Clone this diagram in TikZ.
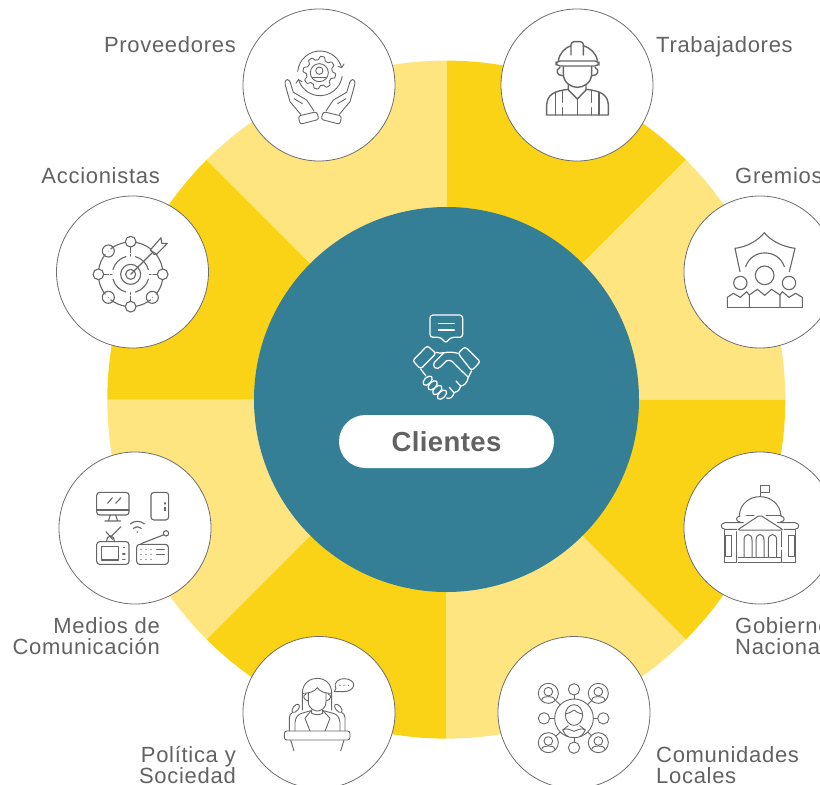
\documentclass[tikz,border=0pt]{standalone}
\usepackage{fontspec}
\setmainfont{Liberation Sans}
\newfontfamily\lblfont[LetterSpace=3.2]{Liberation Sans}
\newfontfamily\pillfont[LetterSpace=1.5]{Liberation Sans Bold}
\definecolor{sunY}{HTML}{FBD316}
\definecolor{paleY}{HTML}{FFE57F}
\definecolor{tealC}{HTML}{347F96}
\definecolor{greyT}{HTML}{626262}
\definecolor{greyI}{HTML}{666666}
\definecolor{ringG}{HTML}{6E6E6E}
\tikzset{
  bubble/.style={circle,draw=ringG,line width=0.8pt,fill=white,minimum size=152pt,inner sep=0pt},
  lblR/.style={font=\lblfont\fontsize{22}{21}\selectfont,text=greyT,align=right,inner sep=0pt},
  lblL/.style={font=\lblfont\fontsize{22}{21}\selectfont,text=greyT,align=left,inner sep=0pt},
  iconline/.style={color=greyI,line width=#1,line cap=round,line join=round},
  iconline/.default=0.9pt,
}
\newcommand{\arcat}[5]{([shift={(#4:#3)}]#1,#2) arc[start angle=#4,end angle=#5,radius=#3]}
\begin{document}
\begin{tikzpicture}[x=1pt,y=-1pt]
\useasboundingbox (0,0) rectangle (820,785);
\clip (0,0) rectangle (820,785);
\fill[white] (0,0) rectangle (820,785);
% sectors
\foreach \a/\c in {-90/sunY,-45/paleY,0/sunY,45/paleY,90/sunY,135/paleY,180/sunY,225/paleY}{
  \fill[\c] (446.3,399.6) -- ++(\a:339) arc[start angle=\a,end angle=\a+45,radius=339] -- cycle;
}
\node[circle,fill=tealC,minimum size=385pt,inner sep=0pt] (hub) at (446.5,399.5) {};
% bubbles
\node[bubble] (prov) at (319,85) {};
\node[bubble] (trab) at (577,85) {};
\node[bubble] (grem) at (760,272) {};
\node[bubble] (gobi) at (760,528) {};
\node[bubble] (comu) at (574,712.5) {};
\node[bubble] (poli) at (319,712.5) {};
\node[bubble] (medi) at (135,528) {};
\node[bubble] (acci) at (132.5,272) {};
% pill
\node[fill=white,rounded corners=26.5pt,minimum width=215pt,minimum height=53pt,inner sep=0pt,text=greyT,font=\pillfont\fontsize{27.5}{27.5}\selectfont] (pill) at (446.5,441.5) {\raisebox{-1pt}{Clientes}};
% labels
\node[lblR,anchor=base east] (lprov) at (236,52) {Proveedores};
\node[lblL,anchor=base west] (ltrab) at (656,52) {Trabajadores};
\node[lblL,anchor=base west] (lgrem) at (735,183) {Gremios};
\node[lblR,anchor=base east] (lacci) at (160,183) {Accionistas};
\node[lblR,anchor=base east] (lmedi) at (160,654) {Medios de\\Comunicación};
\node[lblL,anchor=base west] (lgobi) at (735,654) {Gobierno\\Nacional};
\node[lblR,anchor=base east] (lpoli) at (236,783) {Política y\\Sociedad};
\node[lblL,anchor=base west] (lcomu) at (656,783) {Comunidades\\Locales};
% ---- handshake
\begin{scope}[shift={(330,300)},x=0.33333pt,y=-0.33333pt,color=white,line width=1.25pt,line cap=round,line join=round]
\draw[rounded corners=3pt] (333,112)--(300,112)--(300,45)--(398,45)--(398,112)--(362,112)--(347,130)--cycle;
\draw (325,70)--(373,70) (325,90)--(373,90);
\draw[rounded corners=2.5pt] (248,182)--(292,137)--(318,160)--(272,207)--cycle;
\draw[rounded corners=2.5pt] (384,160)--(405,140)--(451,185)--(425,212)--cycle;
\draw (318,157) .. controls (335,165) and (350,150) .. (384,160);
\draw (342,158) -- (313,187) .. controls (305,200) and (320,213) .. (332,200) -- (350,182) .. controls (358,178) and (365,182) .. (372,190) -- (415,232);
\draw (425,212) -- (415,232) .. controls (412,248) and (402,258) .. (392,258) -- (378,243);
\draw (392,258) .. controls (388,272) and (380,278) .. (372,278) -- (358,262);
\draw (372,278) .. controls (370,292) and (358,298) .. (350,294);
\draw (272,207) -- (288,228);
\foreach \p in {(293,242),(308,256),(322,270),(336,284)}{
  \draw[rotate around={45:\p}] \p ellipse[x radius=17,y radius=10];
}
\end{scope}
% ---- Proveedores icon
\begin{scope}[shift={(240,5)},x=0.33333pt,y=-0.33333pt,iconline]
\draw plot[domain=0:360,samples=161] ({238+(44+5*max(-1,min(1,2*sin(8*\x))))*cos(\x)},{203+(44+5*max(-1,min(1,2*sin(8*\x))))*sin(\x)}) -- cycle;
\draw (238,203) circle[radius=27];
\draw (238,197) circle[radius=11];
\draw (218,217) -- (258,217);
\draw \arcat{240}{205}{67}{185}{345};
\draw \arcat{240}{205}{67}{8}{165};
\draw (305,188) -- (294,184) (305,188) -- (312,177);
\draw (175,224) -- (186,230) (175,224) -- (168,235);
\draw[rounded corners=2.5pt] (175,333)--(230,320)--(237,343)--(180,358)--cycle;
\draw[rounded corners=2.5pt] (305,333)--(250,320)--(243,343)--(300,358)--cycle;
\draw (182,328) -- (150,290) -- (136,240) .. controls (132,218) and (150,218) .. (153,240) -- (160,262) -- (200,285) -- (222,318);
\draw (298,328) -- (330,290) -- (344,240) .. controls (348,218) and (330,218) .. (327,240) -- (320,262) -- (280,285) -- (258,318);
\draw (162,281) -- (187,296) (318,281) -- (293,296);
\end{scope}
% ---- Trabajadores icon
\begin{scope}[shift={(500,5)},x=0.33333pt,y=-0.33333pt,iconline=1.4pt]
\draw (175,168) .. controls (178,145) and (195,128) .. (213,122) (250,122) .. controls (270,128) and (290,145) .. (292,168);
\draw[rounded corners=3pt] (213,150) -- (213,110) -- (250,110) -- (250,150);
\draw[rounded corners=4pt] (168,168) rectangle (297,183);
\draw (190,185) -- (190,205) .. controls (190,235) and (215,247) .. (232,247) .. controls (250,247) and (275,235) .. (275,205) -- (275,185);
\draw (180,187) .. controls (165,195) and (170,212) .. (188,212);
\draw (285,187) .. controls (300,195) and (295,212) .. (277,212);
\draw (205,238) -- (205,255) -- (232,282) -- (258,255) -- (258,238);
\draw (205,253) .. controls (160,258) and (142,270) .. (140,300) -- (140,330) -- (325,330) -- (325,300) .. controls (323,270) and (305,258) .. (258,253);
\draw (232,282) -- (232,330);
\draw (167,262) -- (167,330) (187,258) -- (187,292) (187,308) -- (187,330);
\draw (297,262) -- (297,330) (275,258) -- (275,292) (275,308) -- (275,330);
\end{scope}
% ---- Gremios icon
\begin{scope}[shift={(680,190)},x=0.33333pt,y=-0.33333pt,iconline=1.1pt]
\draw (180,245) -- (165,175) .. controls (205,170) and (235,150) .. (253,128) .. controls (270,150) and (305,170) .. (345,175) -- (328,245);
\draw (197,230) .. controls (215,175) and (295,175) .. (313,230);
\draw (254,256) circle[radius=28];
\draw (181,279) circle[radius=20];
\draw (327,279) circle[radius=20];
\draw (142,352) -- (367,352);
\draw (142,352) -- (142,322) -- (160,310) -- (181,322) -- (200,305) -- (208,315) -- (208,352);
\draw (208,315) -- (232,298) -- (254,316) -- (275,298) -- (300,315) -- (300,352);
\draw (300,315) -- (307,305) -- (327,322) -- (347,310) -- (367,322) -- (367,352);
\end{scope}
% ---- Gobierno icon
\begin{scope}[shift={(680,450)},x=0.33333pt,y=-0.33333pt,iconline=1pt]
\draw (240,105) rectangle (268,127);
\draw (240,127) -- (240,140);
\draw (178,197) .. controls (180,160) and (210,140) .. (240,140) .. controls (270,140) and (300,160) .. (303,197);
\draw (200,197) -- (222,197) (258,197) -- (303,197);
\draw (180,198) .. controls (166,200) and (166,214) .. (180,216);
\draw (302,198) .. controls (316,200) and (316,214) .. (302,216);
\draw[rounded corners=2pt] (172,240) -- (240,195) -- (310,240) -- cycle;
\draw (190,218) -- (135,218) .. controls (120,220) and (120,236) .. (135,238) -- (170,238);
\draw (292,218) -- (345,218) .. controls (360,220) and (360,236) .. (345,238) -- (312,238);
\draw (133,240) -- (133,337) -- (167,337) (170,245) -- (170,337);
\draw (137,255) rectangle (155,320);
\draw (175,337) -- (307,337) (175,322) -- (302,322);
\foreach \xa/\xb in {192/216,228/252,265/290}{
  \draw (\xa,322) -- (\xa,270) .. controls (\xa,248) and (\xb,248) .. (\xb,270) -- (\xb,322);
}
\draw (305,245) -- (305,290) (305,300) -- (305,337);
\draw (325,255) rectangle (343,320);
\draw (347,240) -- (347,337) -- (310,337);
\end{scope}
% ---- Comunidades icon
\begin{scope}[shift={(495,635)},x=0.33333pt,y=-0.33333pt,iconline=0.9pt]
\draw (237,250) circle[radius=58];
\foreach \p in {(237,163),(147,250),(325,250),(237,338)}{\draw \p circle[radius=17];}
\foreach \cx/\cy in {160/175,310/175,160/323,310/323}{
  \draw (\cx,\cy) circle[radius=30];
  \draw (\cx,\cy-5) circle[radius=13];
  \draw (\cx-20,\cy+21) .. controls (\cx-18,\cy+10) and (\cx-8,\cy+10) .. (\cx,\cy+10) .. controls (\cx+8,\cy+10) and (\cx+18,\cy+10) .. (\cx+20,\cy+21);
}
\draw (237,180)--(237,192) (164,250)--(179,250) (295,250)--(308,250) (237,308)--(237,321);
\draw (183,197)--(196,210) (278,209)--(290,197) (183,303)--(196,291) (278,291)--(290,303);
\draw (237,240) ellipse[x radius=26,y radius=31];
\draw (212,237) .. controls (222,235) and (230,230) .. (237,225) .. controls (244,232) and (252,235) .. (262,237);
\draw (220,272) -- (203,285) .. controls (205,295) and (215,302) .. (220,305);
\draw (254,272) -- (271,285) .. controls (269,295) and (259,302) .. (254,305);
\draw (203,285) .. controls (215,277) and (225,285) .. (237,289) .. controls (249,285) and (259,277) .. (271,285);
\end{scope}
% ---- Politica icon
\begin{scope}[shift={(240,635)},x=0.33333pt,y=-0.33333pt,iconline=0.9pt]
\draw[rounded corners=2.5pt] (133,288) rectangle (330,315);
\draw (152,315)--(162,348) (312,315)--(302,348);
\draw (187,225) -- (187,175) .. controls (187,145) and (210,130) .. (230,130) .. controls (255,130) and (275,145) .. (275,175) -- (275,225);
\draw (205,172) -- (205,200) .. controls (205,222) and (225,228) .. (232,228) .. controls (240,228) and (258,222) .. (258,200) -- (258,172);
\draw (190,175) .. controls (205,175) and (225,170) .. (232,158) .. controls (240,170) and (255,175) .. (272,175);
\draw (198,178) .. controls (188,178) and (188,195) .. (205,198);
\draw (265,178) .. controls (275,178) and (275,195) .. (258,198);
\draw (165,288) -- (165,262) .. controls (167,245) and (175,238) .. (185,235) -- (212,227);
\draw (300,288) -- (300,262) .. controls (298,245) and (290,238) .. (280,235) -- (250,227);
\draw (212,228) -- (195,250) -- (210,288) (250,228) -- (270,250) -- (255,288);
\draw (215,225) -- (215,235) .. controls (225,240) and (240,240) .. (248,235) -- (248,225);
\draw (148,288) -- (148,248) .. controls (148,240) and (152,236) .. (158,232);
\draw (315,288) -- (315,248) .. controls (315,240) and (311,236) .. (305,232);
\draw[rotate around={-40:(167,220)}] (167,220) ellipse[x radius=8,y radius=15];
\draw[rotate around={40:(295,220)}] (295,220) ellipse[x radius=8,y radius=15];
\draw (288,160) .. controls (278,140) and (300,130) .. (313,131) .. controls (330,131) and (342,140) .. (341,151) .. controls (340,163) and (325,170) .. (310,170) -- (283,170) -- (288,160);
\foreach \xx in {300,312,325}{\fill[greyI] (\xx,151) circle[radius=2];}
\end{scope}
% ---- Medios icon
\begin{scope}[shift={(55,450)},x=0.33333pt,y=-0.33333pt,iconline=1.1pt]
\draw[rounded corners=3pt] (125,127) rectangle (222,195);
\draw (125,180)--(222,180);
\draw (166,195)--(160,213) (182,195)--(188,213) (150,213)--(197,213);
\draw (158,160)--(172,143) (182,160)--(198,143);
\draw[rounded corners=3pt] (288,127) rectangle (341,210);
\draw (330,158)--(330,162) (330,172)--(330,182);
\draw \arcat{247}{247}{33}{-130}{-50};
\draw \arcat{247}{247}{17}{-135}{-45};
\fill[greyI] (247,246) circle[radius=2.5];
\draw[rounded corners=3pt] (125,275) rectangle (222,343);
\draw (140,290) rectangle (190,330);
\draw (205,292)--(208,292) (203,312)--(210,312) (203,328)--(210,328);
\draw (153,245)--(173,268) (198,230)--(166,262);
\draw (155,275) .. controls (155,252) and (178,252) .. (178,275);
\draw[rounded corners=3pt] (245,283) rectangle (340,343);
\draw (258,281)--(325,255);
\draw (333,250) circle[radius=8];
\foreach \xx in {258,273,288}{\foreach \yy in {298,313,328}{\fill[greyI] (\xx,\yy) circle[radius=2];}}
\draw (305,298)--(328,298) (305,313)--(328,313);
\end{scope}
% ---- Accionistas icon
\begin{scope}[shift={(55,195)},x=0.33333pt,y=-0.33333pt,iconline=1.1pt]
\foreach \a/\b in {-80/-52,-38/-10,10/38,52/80,100/128,142/170,190/218,232/260}{
  \draw \arcat{227}{238}{97}{\a}{\b};
}
\draw (227,140) circle[radius=16];
\draw (160,168) circle[radius=18];
\draw (130,238) circle[radius=16];
\draw (160,307) circle[radius=18];
\draw (227,335) circle[radius=16];
\draw (292,307) circle[radius=18];
\draw (323,238) circle[radius=16];
\foreach \p in {(160,168),(160,307),(292,307)}{\fill[greyI] \p circle[radius=1.5];}
\foreach \a/\b in {-75/-15,15/75,105/165,195/255}{
  \draw \arcat{227}{238}{55}{\a}{\b};
}
\draw (227,156)--(227,172) (227,178)--(227,183) (227,293)--(227,298) (227,304)--(227,319);
\draw (146,238)--(160,238) (166,238)--(171,238) (283,238)--(288,238) (294,238)--(307,238);
\draw (227,238) circle[radius=30];
\draw (227,238) circle[radius=15];
\draw (227,238)--(290,175);
\draw (286,165)--(297,178) (286,165)--(318,128)--(320,145)--(337,145)--(305,178)--(297,178);
\draw (286,165)--(305,178);
\end{scope}
\end{tikzpicture}
\end{document}
